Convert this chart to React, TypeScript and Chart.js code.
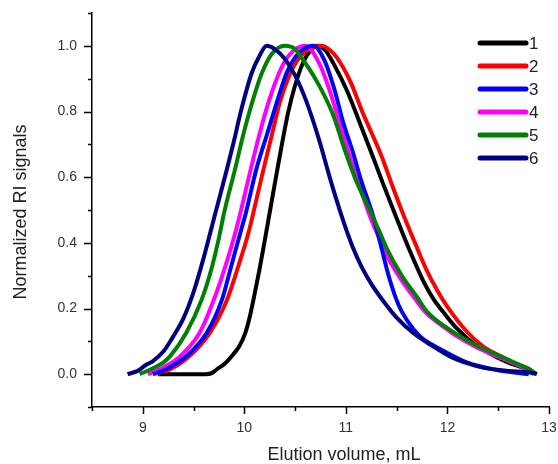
import React, { useEffect, useRef } from "react";
import { Chart, registerables } from "chart.js";

Chart.register(...registerables);

const seriesNames = ["1", "2", "3", "4", "5", "6"];
const seriesColors = ["#000000", "#FF0000", "#0000FF", "#FF00FF", "#008000", "#000080"];
const seriesOrder = [6, 5, 3, 4, 2, 1];

const x1 = [9.15, 9.4, 9.62, 9.68, 9.73, 9.8, 9.89, 9.95, 10.01, 10.05, 10.09, 10.15, 10.2, 10.24, 10.32, 10.37, 10.43, 10.5, 10.58, 10.65, 10.72, 10.8, 10.88, 11.01, 11.14, 11.25, 11.36, 11.48, 11.61, 11.76, 11.86, 11.99, 12.09, 12.25, 12.42, 12.6, 12.78, 12.85];
const y1 = [0, 0, 0, 0.003, 0.015, 0.03, 0.06, 0.085, 0.126, 0.17, 0.227, 0.32, 0.405, 0.475, 0.615, 0.7, 0.795, 0.88, 0.95, 0.985, 1.0, 0.985, 0.945, 0.864, 0.763, 0.675, 0.585, 0.49, 0.39, 0.285, 0.23, 0.177, 0.14, 0.095, 0.062, 0.035, 0.015, 0];

const x2 = [9.1, 9.27, 9.46, 9.66, 9.83, 9.94, 10.04, 10.08, 10.19, 10.27, 10.35, 10.45, 10.52, 10.6, 10.68, 10.76, 10.85, 10.91, 11.04, 11.17, 11.26, 11.35, 11.45, 11.56, 11.68, 11.79, 11.9, 12.0, 12.19, 12.35, 12.52, 12.7, 12.81, 12.88];
const y2 = [0, 0.015, 0.055, 0.126, 0.227, 0.328, 0.43, 0.48, 0.626, 0.727, 0.828, 0.915, 0.955, 0.982, 0.995, 1.0, 0.985, 0.965, 0.894, 0.793, 0.73, 0.665, 0.58, 0.49, 0.4, 0.32, 0.255, 0.205, 0.13, 0.085, 0.055, 0.028, 0.012, 0];

const x3 = [9.1, 9.23, 9.43, 9.63, 9.78, 9.87, 9.96, 10.01, 10.12, 10.22, 10.32, 10.42, 10.5, 10.58, 10.68, 10.79, 10.89, 10.97, 11.07, 11.15, 11.27, 11.35, 11.43, 11.52, 11.6, 11.73, 11.86, 11.93, 12.19, 12.5, 12.8];
const y3 = [0, 0.015, 0.055, 0.126, 0.227, 0.328, 0.43, 0.485, 0.626, 0.727, 0.828, 0.92, 0.965, 0.99, 1.0, 0.955, 0.864, 0.77, 0.675, 0.59, 0.48, 0.385, 0.29, 0.21, 0.165, 0.115, 0.088, 0.076, 0.036, 0.012, 0];

const x4 = [9.05, 9.2, 9.37, 9.56, 9.71, 9.83, 9.91, 9.94, 10.06, 10.14, 10.24, 10.36, 10.45, 10.6, 10.74, 10.84, 10.94, 11.04, 11.17, 11.25, 11.32, 11.38, 11.53, 11.68, 11.78, 11.98, 12.07, 12.3, 12.5, 12.8, 12.86];
const y4 = [0, 0.02, 0.055, 0.126, 0.235, 0.345, 0.43, 0.465, 0.62, 0.72, 0.83, 0.93, 0.975, 1.0, 0.945, 0.864, 0.763, 0.662, 0.54, 0.47, 0.42, 0.375, 0.295, 0.23, 0.19, 0.14, 0.12, 0.08, 0.053, 0.012, 0];

const x5 = [8.97, 9.1, 9.2, 9.27, 9.43, 9.58, 9.68, 9.75, 9.8, 9.91, 9.99, 10.07, 10.17, 10.27, 10.4, 10.5, 10.55, 10.71, 10.87, 10.99, 11.1, 11.25, 11.33, 11.4, 11.55, 11.7, 11.8, 12.0, 12.09, 12.3, 12.52, 12.7, 12.81, 12.87];
const y5 = [0, 0.018, 0.035, 0.055, 0.127, 0.227, 0.325, 0.415, 0.49, 0.626, 0.73, 0.82, 0.915, 0.975, 1.0, 0.99, 0.97, 0.894, 0.793, 0.682, 0.59, 0.49, 0.435, 0.385, 0.3, 0.235, 0.19, 0.14, 0.122, 0.085, 0.055, 0.03, 0.015, 0];

const x6 = [8.85, 8.95, 9.03, 9.1, 9.2, 9.3, 9.4, 9.5, 9.6, 9.71, 9.83, 9.89, 9.97, 10.07, 10.15, 10.22, 10.3, 10.4, 10.5, 10.6, 10.74, 10.84, 10.96, 11.07, 11.15, 11.25, 11.37, 11.5, 11.66, 11.83, 12.02, 12.2, 12.35, 12.6, 12.84, 12.88];
const y6 = [0, 0.01, 0.028, 0.04, 0.068, 0.115, 0.17, 0.25, 0.355, 0.485, 0.626, 0.7, 0.805, 0.915, 0.97, 1.0, 0.99, 0.96, 0.91, 0.84, 0.71, 0.6, 0.48, 0.385, 0.33, 0.275, 0.222, 0.172, 0.126, 0.09, 0.055, 0.033, 0.02, 0.01, 0.004, 0];

const seriesX = [x1, x2, x3, x4, x5, x6];
const seriesY = [y1, y2, y3, y4, y5, y6];

const xTitle = "Elution volume, mL";
const yTitle = "Normalized RI signals";
const xMajorTicks = [9, 10, 11, 12, 13];
const xTickLabels = ["9", "10", "11", "12", "13"];
const xMinorTicks = [8.5, 9.5, 10.5, 11.5, 12.5];
const yMajorTicks = [0, 0.2, 0.4, 0.6, 0.8, 1.0];
const yTickLabels = ["0.0", "0.2", "0.4", "0.6", "0.8", "1.0"];
const yMinorTicks = [-0.1, 0.1, 0.3, 0.5, 0.7, 0.9, 1.1];

const FONT = '"Liberation Sans", Arial, sans-serif';

const decorPlugin = {
  id: "decor",
  afterDraw(chart: any) {
    const ctx = chart.ctx;
    const xs = chart.scales.x;
    const ys = chart.scales.y;
    const area = chart.chartArea;
    ctx.save();
    ctx.strokeStyle = "#000";
    ctx.lineWidth = 1.5;
    ctx.beginPath();
    for (const v of yMajorTicks) {
      const p = Math.round(ys.getPixelForValue(v)) + 0.5;
      ctx.moveTo(area.left - 8, p);
      ctx.lineTo(area.left, p);
    }
    for (const v of yMinorTicks) {
      const p = Math.round(ys.getPixelForValue(v)) + 0.5;
      ctx.moveTo(area.left - 4, p);
      ctx.lineTo(area.left, p);
    }
    for (const v of xMajorTicks) {
      const p = Math.round(xs.getPixelForValue(v)) + 0.5;
      ctx.moveTo(p, area.bottom);
      ctx.lineTo(p, area.bottom + 7);
    }
    for (const v of xMinorTicks) {
      const p = Math.round(xs.getPixelForValue(v)) + 0.5;
      ctx.moveTo(p, area.bottom);
      ctx.lineTo(p, area.bottom + 4);
    }
    ctx.stroke();

    // tick labels
    ctx.fillStyle = "#333";
    ctx.font = "14px " + FONT;
    ctx.textBaseline = "middle";
    ctx.textAlign = "right";
    yMajorTicks.forEach((v, i) => {
      ctx.fillText(yTickLabels[i], area.left - 15, ys.getPixelForValue(v));
    });
    ctx.textAlign = "center";
    xMajorTicks.forEach((v, i) => {
      ctx.fillText(xTickLabels[i], xs.getPixelForValue(v), area.bottom + 21);
    });

    // axis titles
    ctx.fillStyle = "#222";
    ctx.font = "18px " + FONT;
    ctx.textAlign = "center";
    ctx.textBaseline = "middle";
    ctx.fillText(xTitle, 344, 455);
    ctx.save();
    ctx.translate(21, 212);
    ctx.rotate(-Math.PI / 2);
    ctx.fillText(yTitle, 0, 0);
    ctx.restore();

    // legend
    ctx.lineCap = "round";
    ctx.lineWidth = 5;
    ctx.font = "17px " + FONT;
    ctx.textAlign = "left";
    for (let i = 0; i < seriesNames.length; i++) {
      const y = 43 + i * 23;
      ctx.strokeStyle = seriesColors[i];
      ctx.beginPath();
      ctx.moveTo(480, y);
      ctx.lineTo(526, y);
      ctx.stroke();
      ctx.fillStyle = "#222";
      ctx.fillText(seriesNames[i], 529, y + 1);
    }
    ctx.restore();
  },
};

export default function App() {
  const ref = useRef<HTMLCanvasElement>(null);
  useEffect(() => {
    if (!ref.current) return;
    const datasets = seriesNames.map((name, i) => ({
      label: name,
      data: seriesX[i].map((x, j) => ({ x, y: seriesY[i][j] })),
      borderColor: seriesColors[i],
      backgroundColor: seriesColors[i],
      borderWidth: 4,
      pointRadius: 0,
      showLine: true,
      cubicInterpolationMode: "monotone" as const,
      order: seriesOrder[i],
      fill: false,
    }));
    const chart = new Chart(ref.current, {
      type: "scatter",
      data: { datasets },
      plugins: [decorPlugin],
      options: {
        animation: false,
        responsive: false,
        layout: { padding: { top: 13, right: 9, left: 0, bottom: 0 } },
        plugins: { legend: { display: false }, tooltip: { enabled: false } },
        scales: {
          x: {
            type: "linear",
            min: 8.5,
            max: 13,
            afterFit(scale: any) {
              scale.height = 57;
            },
            grid: { display: false, drawTicks: false, tickLength: 0 },
            border: { display: true, color: "#000", width: 1.5 },
            ticks: { display: false, stepSize: 0.5 },
          },
          y: {
            type: "linear",
            min: -0.1,
            max: 1.1,
            afterFit(scale: any) {
              scale.width = 92;
            },
            grid: { display: false, drawTicks: false, tickLength: 0 },
            border: { display: true, color: "#000", width: 1.5 },
            ticks: { display: false, stepSize: 0.1 },
          },
        },
      },
    });
    return () => chart.destroy();
  }, []);
  return (
    <div style={{ position: "absolute", left: 0, top: 0, width: 558, height: 464, background: "#fff" }}>
      <canvas ref={ref} width={558} height={464} style={{ display: "block" }} />
    </div>
  );
}
